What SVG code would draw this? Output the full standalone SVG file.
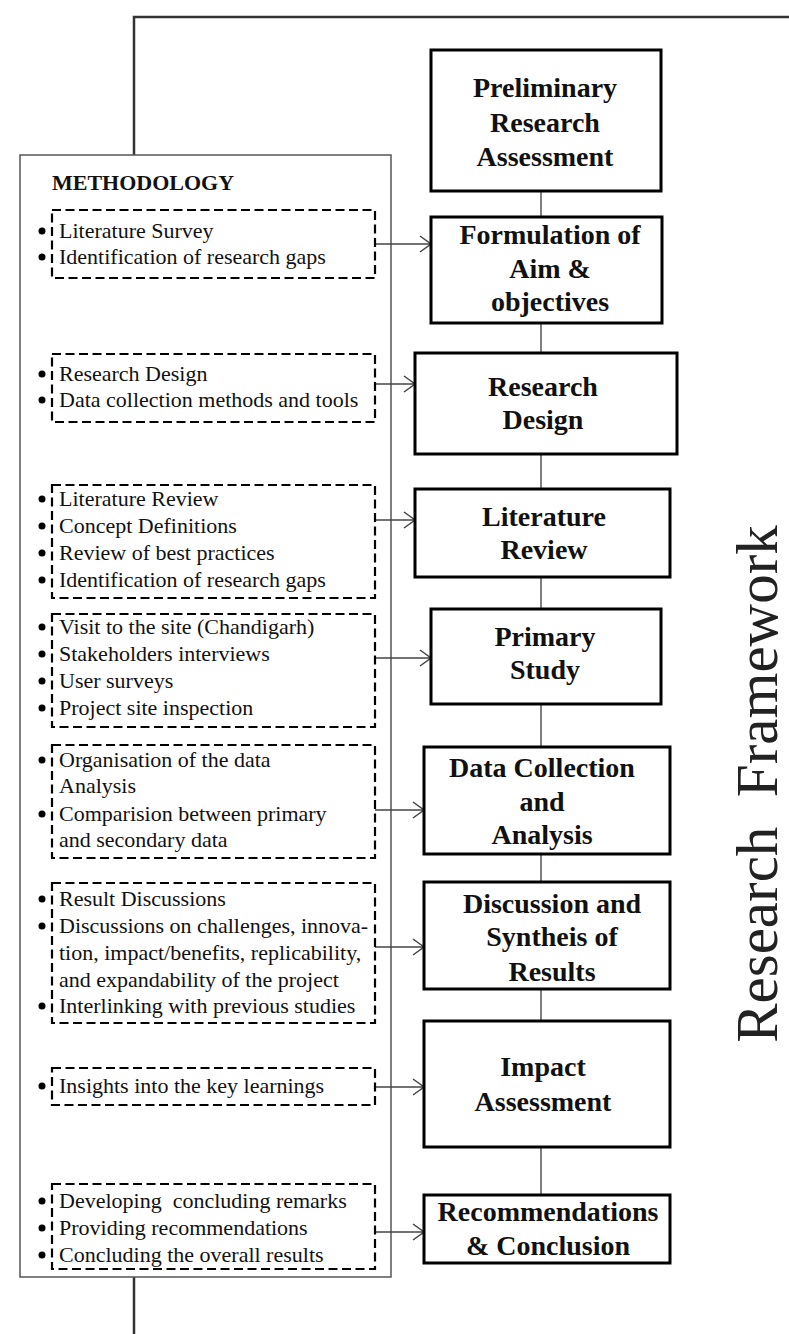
<svg xmlns="http://www.w3.org/2000/svg" width="789" height="1334" viewBox="0 0 789 1334">
<style>
.frame{fill:none;stroke:#333;stroke-width:2.5}
.meth{fill:#fff;stroke:#555;stroke-width:1.5}
.box{fill:#fff;stroke:#000;stroke-width:3}
.dash{fill:#fff;stroke:#000;stroke-width:2.2;stroke-dasharray:9 4.5}
.conn{stroke:#555;stroke-width:1.5;fill:none}
.arr{stroke:#444;stroke-width:1.5;fill:none}
.t{font-family:"Liberation Serif","Times New Roman",serif;font-size:22px;fill:#111}
.b{font-family:"Liberation Serif","Times New Roman",serif;font-size:28px;font-weight:bold;fill:#111;text-anchor:middle}
.h{font-family:"Liberation Serif","Times New Roman",serif;font-size:22px;font-weight:bold;fill:#111}
.rf{font-family:"Liberation Serif","Times New Roman",serif;font-size:59px;fill:#222;text-anchor:middle;white-space:pre}
.dot{fill:#000}
</style>
<defs>
<marker id="ah" markerWidth="14" markerHeight="18" refX="12" refY="9" orient="auto" markerUnits="userSpaceOnUse">
<path d="M1,1 L12,9 L1,17" fill="none" stroke="#444" stroke-width="1.5"/>
</marker>
</defs>

<g id="frame">
<path class="frame" d="M134,155 V17 H789"/>
<path class="frame" d="M134,1277 V1334"/>
</g>

<g id="methodology">
<rect class="meth" x="20" y="155" width="371" height="1122"/>
<text class="h" x="52" y="190">METHODOLOGY</text>
</g>

<g id="connectors">
<line class="conn" x1="541" y1="191" x2="541" y2="1195"/>
<line class="arr" x1="375" y1="244" x2="431" y2="244" marker-end="url(#ah)"/>
<line class="arr" x1="375" y1="384" x2="415" y2="384" marker-end="url(#ah)"/>
<line class="arr" x1="375" y1="520" x2="415" y2="520" marker-end="url(#ah)"/>
<line class="arr" x1="375" y1="658" x2="431" y2="658" marker-end="url(#ah)"/>
<line class="arr" x1="375" y1="810" x2="424" y2="810" marker-end="url(#ah)"/>
<line class="arr" x1="375" y1="947" x2="424" y2="947" marker-end="url(#ah)"/>
<line class="arr" x1="375" y1="1087" x2="424" y2="1087" marker-end="url(#ah)"/>
<line class="arr" x1="375" y1="1232" x2="424" y2="1232" marker-end="url(#ah)"/>
</g>

<g id="n1">
<rect class="box" x="431" y="50" width="230" height="141"/>
<text class="b" x="545" y="97">Preliminary</text>
<text class="b" x="545" y="132">Research</text>
<text class="b" x="545" y="166">Assessment</text>
</g>
<g id="n2">
<rect class="box" x="431" y="217" width="231" height="106"/>
<text class="b" x="550" y="244">Formulation of</text>
<text class="b" x="550" y="278">Aim &amp;</text>
<text class="b" x="550" y="311">objectives</text>
</g>
<g id="n3">
<rect class="box" x="415" y="353" width="262" height="101"/>
<text class="b" x="543" y="396">Research</text>
<text class="b" x="543" y="429">Design</text>
</g>
<g id="n4">
<rect class="box" x="415" y="489" width="255" height="88"/>
<text class="b" x="544" y="526">Literature</text>
<text class="b" x="544" y="559">Review</text>
</g>
<g id="n5">
<rect class="box" x="431" y="609" width="230" height="95"/>
<text class="b" x="545" y="646">Primary</text>
<text class="b" x="545" y="679">Study</text>
</g>
<g id="n6">
<rect class="box" x="424" y="747" width="246" height="107"/>
<text class="b" x="542" y="777">Data Collection</text>
<text class="b" x="542" y="811">and</text>
<text class="b" x="542" y="844">Analysis</text>
</g>
<g id="n7">
<rect class="box" x="424" y="882" width="246" height="107"/>
<text class="b" x="552" y="913">Discussion and</text>
<text class="b" x="552" y="946">Syntheis of</text>
<text class="b" x="552" y="981">Results</text>
</g>
<g id="n8">
<rect class="box" x="424" y="1021" width="246" height="126"/>
<text class="b" x="543" y="1076">Impact</text>
<text class="b" x="543" y="1111">Assessment</text>
</g>
<g id="n9">
<rect class="box" x="424" y="1195" width="246" height="68"/>
<text class="b" x="548" y="1221">Recommendations</text>
<text class="b" x="548" y="1255">&amp; Conclusion</text>
</g>

<g id="d1">
<rect class="dash" x="52" y="210" width="323" height="68"/>
<circle class="dot" cx="42" cy="231" r="3.5"/><circle class="dot" cx="42" cy="257" r="3.5"/>
<text class="t" x="59" y="238">Literature Survey</text>
<text class="t" x="59" y="264">Identification of research gaps</text>
</g>
<g id="d2">
<rect class="dash" x="52" y="354" width="323" height="68"/>
<circle class="dot" cx="42" cy="374" r="3.5"/><circle class="dot" cx="42" cy="400" r="3.5"/>
<text class="t" x="59" y="381">Research Design</text>
<text class="t" x="59" y="407">Data collection methods and tools</text>
</g>
<g id="d3">
<rect class="dash" x="52" y="485" width="323" height="113"/>
<circle class="dot" cx="42" cy="499" r="3.5"/><circle class="dot" cx="42" cy="526" r="3.5"/><circle class="dot" cx="42" cy="553" r="3.5"/><circle class="dot" cx="42" cy="580" r="3.5"/>
<text class="t" x="59" y="506">Literature Review</text>
<text class="t" x="59" y="533">Concept Definitions</text>
<text class="t" x="59" y="560">Review of best practices</text>
<text class="t" x="59" y="587">Identification of research gaps</text>
</g>
<g id="d4">
<rect class="dash" x="52" y="614" width="323" height="113"/>
<circle class="dot" cx="42" cy="627" r="3.5"/><circle class="dot" cx="42" cy="654" r="3.5"/><circle class="dot" cx="42" cy="681" r="3.5"/><circle class="dot" cx="42" cy="708" r="3.5"/>
<text class="t" x="59" y="634">Visit to the site (Chandigarh)</text>
<text class="t" x="59" y="661">Stakeholders interviews</text>
<text class="t" x="59" y="688">User surveys</text>
<text class="t" x="59" y="715">Project site inspection</text>
</g>
<g id="d5">
<rect class="dash" x="52" y="745" width="323" height="113"/>
<circle class="dot" cx="42" cy="760" r="3.5"/><circle class="dot" cx="42" cy="814" r="3.5"/>
<text class="t" x="59" y="767">Organisation of the data</text>
<text class="t" x="59" y="793">Analysis</text>
<text class="t" x="59" y="821">Comparision between primary</text>
<text class="t" x="59" y="847">and secondary data</text>
</g>
<g id="d6">
<rect class="dash" x="52" y="883" width="323" height="140"/>
<circle class="dot" cx="42" cy="899" r="3.5"/><circle class="dot" cx="42" cy="926" r="3.5"/><circle class="dot" cx="42" cy="1006" r="3.5"/>
<text class="t" x="59" y="906">Result Discussions</text>
<text class="t" x="59" y="933">Discussions on challenges, innova-</text>
<text class="t" x="59" y="960">tion, impact/benefits, replicability,</text>
<text class="t" x="59" y="987">and expandability of the project</text>
<text class="t" x="59" y="1013">Interlinking with previous studies</text>
</g>
<g id="d7">
<rect class="dash" x="52" y="1068" width="323" height="37"/>
<circle class="dot" cx="42" cy="1086" r="3.5"/>
<text class="t" x="59" y="1093">Insights into the key learnings</text>
</g>
<g id="d8">
<rect class="dash" x="52" y="1184" width="323" height="85"/>
<circle class="dot" cx="42" cy="1201" r="3.5"/><circle class="dot" cx="42" cy="1228" r="3.5"/><circle class="dot" cx="42" cy="1255" r="3.5"/>
<text class="t" x="59" y="1208" style="white-space:pre">Developing  concluding remarks</text>
<text class="t" x="59" y="1235">Providing recommendations</text>
<text class="t" x="59" y="1262">Concluding the overall results</text>
</g>

<g id="title">
<text class="rf" transform="translate(777,784) rotate(-90)">Research  Framework</text>
</g>
</svg>
